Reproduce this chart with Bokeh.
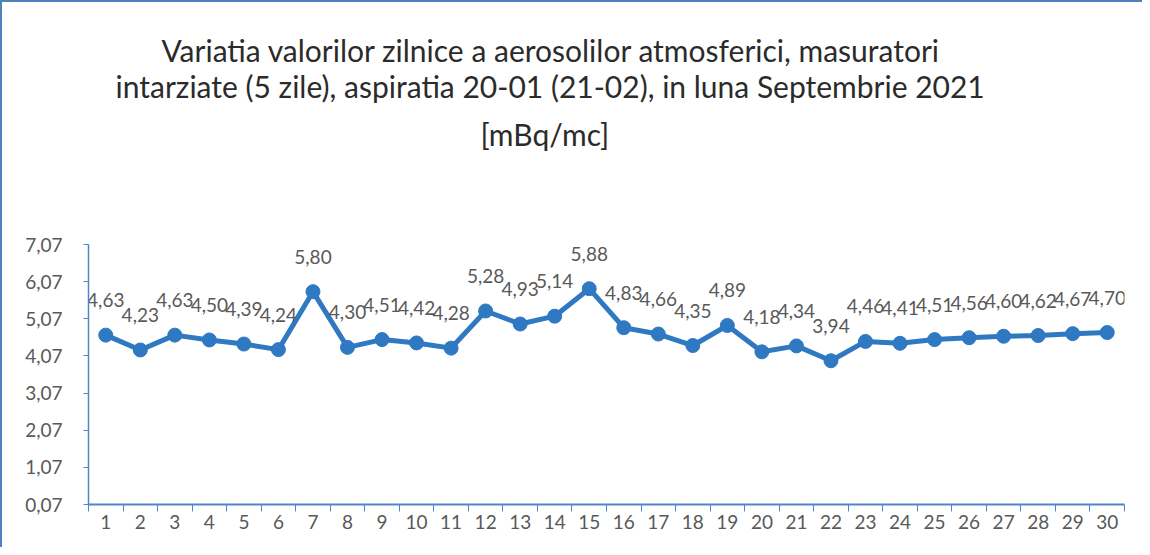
from bokeh.plotting import figure
from bokeh.models import Range1d, FixedTicker, CustomJSTickFormatter, Title, ColumnDataSource
from bokeh.core.properties import value
from bokeh.embed import file_html
from bokeh.resources import INLINE

days = list(range(1, 31))
values = [4.63, 4.23, 4.63, 4.50, 4.39, 4.24, 5.80, 4.30, 4.51, 4.42,
          4.28, 5.28, 4.93, 5.14, 5.88, 4.83, 4.66, 4.35, 4.89, 4.18,
          4.34, 3.94, 4.46, 4.41, 4.51, 4.56, 4.60, 4.62, 4.67, 4.70]
y_ticks = [0.07, 1.07, 2.07, 3.07, 4.07, 5.07, 6.07, 7.07]
title_lines = ["Variatia valorilor zilnice a aerosolilor atmosferici, masuratori",
               "intarziate (5 zile), aspiratia 20-01 (21-02),  in luna Septembrie 2021",
               "[mBq/mc]"]

labels = [f"{v:.2f}".replace(".", ",") for v in values]
src = ColumnDataSource(dict(x=days, y=values, lab=labels))

W, H = 1142, 547
p = figure(width=W, height=H, output_backend="svg", toolbar_location=None,
           x_range=Range1d(0.5, 30.5), y_range=Range1d(0.07, 7.07),
           min_border_left=86, min_border_right=20, min_border_top=242,
           min_border_bottom=45)
p.outline_line_color = None
p.xgrid.grid_line_color = None
p.ygrid.grid_line_color = None
p.background_fill_color = "white"
p.border_fill_color = "white"
p.styles = {"border-top": "2px solid #4f81bd", "border-left": "2px solid #4f81bd"}

axis_col = "#4f86c6"
p.xaxis.ticker = FixedTicker(ticks=days, minor_ticks=[d + 0.5 for d in [0] + days])
p.xaxis.major_tick_line_color = None
p.xaxis.minor_tick_line_color = axis_col
p.xaxis.minor_tick_out = 7
p.xaxis.minor_tick_in = 0
p.xaxis.axis_line_color = axis_col
p.xaxis.axis_line_width = 2
p.xaxis.major_label_text_font = "Lato"
p.xaxis.major_label_text_font_size = "19px"
p.xaxis.major_label_text_color = "#595959"
p.xaxis.major_label_standoff = 3

p.yaxis.ticker = FixedTicker(ticks=y_ticks)
p.yaxis.formatter = CustomJSTickFormatter(code="return tick.toFixed(2).replace('.', ',');")
p.yaxis.minor_tick_line_color = None
p.yaxis.major_tick_line_color = axis_col
p.yaxis.major_tick_out = 5
p.yaxis.major_tick_in = 0
p.yaxis.axis_line_color = axis_col
p.yaxis.axis_line_width = 1.5
p.yaxis.major_label_text_font = "Lato"
p.yaxis.major_label_text_font_size = "19px"
p.yaxis.major_label_text_color = "#595959"
p.yaxis.major_label_standoff = 21

line_col = "#2f78c2"
p.line("x", "y", source=src, line_color=line_col, line_width=5)
p.scatter("x", "y", source=src, size=14, fill_color=line_col, line_color=line_col)
p.text("x", "y", text="lab", source=src, text_align="center", text_baseline="bottom",
       y_offset=-28, text_font=value("Lato"), text_font_size="19px", text_color="#595959")

# titles stacked outward from the frame: spacer first, then last line ... first line
p.add_layout(Title(text=" ", text_font_size="74px", standoff=0), "above")
offsets = [73, 27, 392]
standoffs = [-8, 4, 16]
for t, off, so in reversed(list(zip(title_lines, offsets, standoffs))):
    p.add_layout(Title(text=t, align="left", offset=off, standoff=so,
                       text_font="Lato", text_font_size="30px",
                       text_font_style="normal", text_color="#2b2b2b"), "above")

open("out.html", "w").write(file_html(p, INLINE))
